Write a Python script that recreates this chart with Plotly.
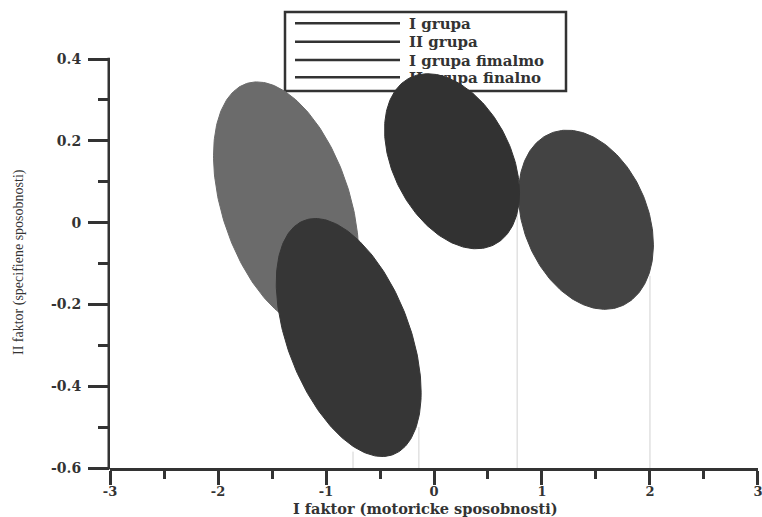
import numpy as np
import plotly.graph_objects as go

# ---------------- data ----------------
legend_labels = ["I grupa", "II grupa", "I grupa fimalmo", "II grupa finalno"]

# ellipses (drawing order): centre, spread along each factor, correlation
ell_names = ["I grupa", "I grupa fimalmo", "II grupa finalno", "II grupa"]
center_x = [-1.37, -0.79, 1.407, 0.167]
center_y = [0.043, -0.281, 0.007, 0.150]
spread_x = [0.672, 0.671, 0.625, 0.625]
spread_y = [0.301, 0.291, 0.219, 0.214]
corr = [-0.40, -0.46, -0.28, -0.36]
ell_colors = ["#6b6b6b", "#363636", "#434343", "#323232"]

# thin vertical drop lines to the x axis
drop_x = [-0.75, -0.14, 0.77, 2.0]
drop_top = [-0.56, -0.50, 0.023, -0.13]

x_ticks = [-3, -2, -1, 0, 1, 2, 3]
x_ticktext = ["-3", "-2", "-1", "0", "1", "2", "3"]
x_minor = [-2.5, -1.5, -0.5, 0.5, 1.5, 2.5]
y_ticks = [-0.6, -0.4, -0.2, 0, 0.2, 0.4]
y_ticktext = ["-0.6", "-0.4", "-0.2", "0", "0.2", "0.4"]
y_minor = [-0.5, -0.3, -0.1, 0.1, 0.3]

x_title = "I faktor (motoricke sposobnosti)"
y_title = "II faktor (specifiene sposobnosti)"

# ---------------- layout geometry ----------------
W, H = 762, 517
ML, MR, MT, MB = 110, 4, 5, 49
PW, PH = W - ML - MR, H - MT - MB
AX_TOP_PX = 59          # pixel row of y = 0.4 (top of drawn axis)
XR = (-3.0005, 3.0005)
Y_LO, Y_HI_AXIS = -0.6, 0.4
UNIT_PX = (H - MB - AX_TOP_PX) / (Y_HI_AXIS - Y_LO)
YR = (Y_LO, Y_HI_AXIS + (AX_TOP_PX - MT) / UNIT_PX)   # room above for the legend


def px2paper_x(px):
    return (px - ML) / PW


def px2paper_y(py):
    return (H - MB - py) / PH


def px2data_x(px):
    return XR[0] + (px - ML) / PW * (XR[1] - XR[0])


def px2data_y(py):
    return YR[0] + (H - MB - py) / PH * (YR[1] - YR[0])


INK = "#333333"
fig = go.Figure()

t = np.linspace(0, 2 * np.pi, 241)


def add_ellipse(i):
    sx, sy, r = spread_x[i], spread_y[i], corr[i]
    xs = center_x[i] + sx * np.cos(t)
    ys = center_y[i] + sy * (r * np.cos(t) + np.sqrt(1 - r * r) * np.sin(t))
    fig.add_trace(go.Scatter(
        x=xs, y=ys, mode="lines", fill="toself",
        fillcolor=ell_colors[i], line=dict(color=ell_colors[i], width=1),
        name=ell_names[i], showlegend=False, hoverinfo="skip"))


for i in range(3):
    add_ellipse(i)

# legend text (drawn before the last ellipse, which overlaps it)
leg_rows_px = [23.3, 41.7, 60.0, 77.3]
fig.add_trace(go.Scatter(
    x=[px2data_x(409)] * 4, y=[px2data_y(p + 2) for p in leg_rows_px],
    mode="text", text=legend_labels, textposition="middle right",
    textfont=dict(family="DejaVu Serif", size=15, color=INK, weight="bold"),
    showlegend=False, hoverinfo="skip"))

add_ellipse(3)

shapes = []
for xv, yt in zip(drop_x, drop_top):
    shapes.append(dict(type="line", xref="x", yref="y", x0=xv, x1=xv,
                       y0=Y_LO, y1=yt, layer="below",
                       line=dict(color="#d2d2d2", width=1)))
# legend box and line samples
shapes.append(dict(type="rect", xref="paper", yref="paper",
                   x0=px2paper_x(285), x1=px2paper_x(566),
                   y0=px2paper_y(91), y1=px2paper_y(12), layer="below",
                   fillcolor="white", line=dict(color=INK, width=2.5)))
for p in leg_rows_px:
    shapes.append(dict(type="line", xref="paper", yref="paper",
                       x0=px2paper_x(295), x1=px2paper_x(400),
                       y0=px2paper_y(p), y1=px2paper_y(p), layer="below",
                       line=dict(color=INK, width=2.5)))
# y axis line (only from -0.6 to 0.4)
shapes.append(dict(type="line", xref="paper", yref="paper",
                   x0=px2paper_x(ML - 1.25), x1=px2paper_x(ML - 1.25),
                   y0=px2paper_y(H - MB + 1.25), y1=px2paper_y(AX_TOP_PX - 1.25),
                   layer="above", line=dict(color=INK, width=2.5)))

fig.update_layout(
    width=W, height=H,
    margin=dict(l=ML, r=MR, t=MT, b=MB, autoexpand=False),
    paper_bgcolor="white", plot_bgcolor="white",
    showlegend=False,
    shapes=shapes,
    xaxis=dict(range=list(XR), showgrid=False, zeroline=False,
               showline=True, linecolor=INK, linewidth=2.5,
               ticks="outside", ticklen=14, tickwidth=2.5, tickcolor=INK,
               tickmode="array", tickvals=x_ticks, ticktext=x_ticktext,
               ticklabelstandoff=-4, ticklabeloverflow="allow",
               automargin=False,
               tickfont=dict(family="DejaVu Serif", size=13, color=INK, weight="bold"),
               minor=dict(ticks="outside", ticklen=8, tickwidth=2.5,
                          tickcolor=INK, tickvals=x_minor, showgrid=False)),
    yaxis=dict(range=list(YR), showgrid=False, zeroline=False,
               showline=False, automargin=False,
               ticks="outside", ticklen=21, tickwidth=2.5, tickcolor=INK,
               tickmode="array", tickvals=y_ticks, ticktext=y_ticktext,
               ticklabelstandoff=4,
               tickfont=dict(family="DejaVu Serif", size=14, color=INK, weight="bold"),
               minor=dict(ticks="outside", ticklen=11, tickwidth=2.5,
                          tickcolor=INK, tickvals=y_minor, showgrid=False)),
    annotations=[
        dict(text=x_title, xref="paper", yref="paper",
             x=px2paper_x(425), y=px2paper_y(508), xanchor="center",
             yanchor="middle", showarrow=False,
             font=dict(family="DejaVu Serif", size=14.5, color=INK, weight="bold")),
        dict(text=y_title, xref="paper", yref="paper",
             x=px2paper_x(19), y=px2paper_y(262), xanchor="center",
             yanchor="middle", textangle=-90, showarrow=False,
             font=dict(family="Liberation Serif", size=14, color=INK)),
    ],
)

fig.write_html("out.html", config={"displayModeBar": False},
               post_script="document.body.style.margin='0px';")
